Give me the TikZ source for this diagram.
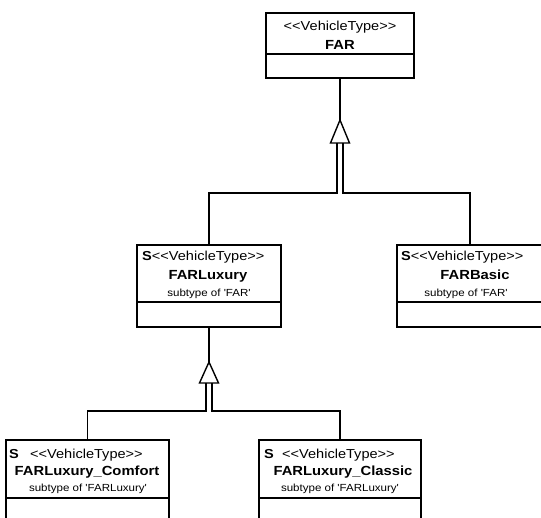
\documentclass[tikz,border=0pt]{standalone}
\usepackage{fontspec}
\newfontfamily\umlfont{Liberation Sans}
\usetikzlibrary{calc}
% UML labels are set slightly wide
\newcommand{\wtext}[1]{\scalebox{1.12}[1]{#1}}
\newcommand{\stereo}{\wtext{<\kern0pt<VehicleType>\kern0pt>}}
\tikzset{
  classbox/.style={draw, line width=1.5pt, inner sep=0pt, rectangle},
  link/.style={draw, line width=1.4pt},
  gentri/.style={draw, line width=1.4pt, fill=white, line join=miter},
  stype/.style={anchor=base, inner sep=0pt, font=\umlfont\fontsize{13}{15}\selectfont},
  stypew/.style={anchor=base west, inner sep=0pt, font=\umlfont\fontsize{13}{15}\selectfont},
  sflag/.style={anchor=base west, inner sep=0pt, font=\umlfont\bfseries\fontsize{13}{15}\selectfont},
  cname/.style={anchor=base, inner sep=0pt, font=\umlfont\bfseries\fontsize{13.2}{15}\selectfont},
  subt/.style={anchor=base, inner sep=0pt, font=\umlfont\fontsize{10.3}{12}\selectfont},
}
\begin{document}
\begin{tikzpicture}[x=1pt,y=-1pt]
\useasboundingbox (0,0) rectangle (541,517);
\begin{scope}
\clip (0,0) rectangle (541,517);

% class boxes
\node[classbox, minimum width=148pt, minimum height=65pt] (far) at (340,45.5) {};
\node[classbox, minimum width=144pt, minimum height=82pt] (lux) at (209,286) {};
\node[classbox, minimum width=146pt, minimum height=82pt] (basic) at (470,286) {};
\node[classbox, minimum width=163pt, minimum height=100pt] (comfort) at (87.5,490) {};
\node[classbox, minimum width=162pt, minimum height=100pt] (classic) at (340,490) {};

% compartment dividers
\draw[line width=1.5pt] (far.west |- 0,54) -- (far.east |- 0,54);
\draw[line width=1.5pt] (lux.west |- 0,302) -- (lux.east |- 0,302);
\draw[line width=1.5pt] (basic.west |- 0,302) -- (basic.east |- 0,302);
\draw[line width=1.5pt] (comfort.west |- 0,498) -- (comfort.east |- 0,498);
\draw[line width=1.5pt] (classic.west |- 0,498) -- (classic.east |- 0,498);

% labels
\node[stype] (farst) at (340,30) {\stereo};
\node[cname] (farnm) at (340,49) {\wtext{FAR}};

\node[stypew] (luxst) at (142,260) {\wtext{\textbf{S}<\kern0pt<VehicleType>\kern0pt>}};
\node[cname] (luxnm) at (208,279) {\wtext{FARLuxury}};
\node[subt] (luxsub) at (209,296) {\wtext{subtype of \textquotesingle FAR\textquotesingle}};

\node[stypew] (basst) at (401,260) {\wtext{\textbf{S}<\kern0pt<VehicleType>\kern0pt>}};
\node[cname] (basnm) at (475,279) {\wtext{FARBasic}};
\node[subt] (bassub) at (466,296) {\wtext{subtype of \textquotesingle FAR\textquotesingle}};

\node[sflag] (comS) at (9,458) {\wtext{S}};
\node[stypew] (comst) at (30,458) {\stereo};
\node[cname] (comnm) at (87,475) {\wtext{FARLuxury\_Comfort}};
\node[subt] (comsub) at (88,491) {\wtext{subtype of \textquotesingle FARLuxury\textquotesingle}};

\node[sflag] (claS) at (264,458) {\wtext{S}};
\node[stypew] (clast) at (282,458) {\stereo};
\node[cname] (clanm) at (343,475) {\wtext{FARLuxury\_Classic}};
\node[subt] (clasub) at (340,491) {\wtext{subtype of \textquotesingle FARLuxury\textquotesingle}};

% generalization: FARLuxury, FARBasic -> FAR
\coordinate (g1tip) at (340,120);
\coordinate (g1l) at (330.5,143);
\coordinate (g1r) at (349.5,143);
\path[link] (far.south) -- (g1tip);
\path[gentri] (g1tip) -- (g1l) -- (g1r) -- cycle;
\path[link] (lux.north) |- (337,193) -- (337,143);
\path[link] (basic.north) |- (343,193) -- (343,143);

% generalization: FARLuxury_Comfort, FARLuxury_Classic -> FARLuxury
\coordinate (g2tip) at (209,362);
\coordinate (g2l) at (199.5,383);
\coordinate (g2r) at (218.5,383);
\path[link] (lux.south) -- (g2tip);
\path[gentri] (g2tip) -- (g2l) -- (g2r) -- cycle;
\path[link] (comfort.north) |- (206,411) -- (206,383);
\path[link] (classic.north) |- (212,411) -- (212,383);
\end{scope}
\end{tikzpicture}
\end{document}
